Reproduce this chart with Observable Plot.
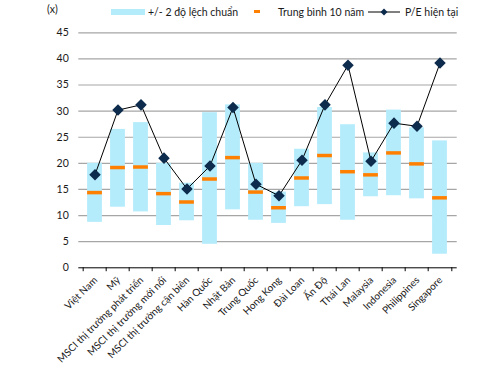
<!DOCTYPE html>
<html>
<head>
<meta charset="utf-8">
<script src="https://cdn.jsdelivr.net/npm/d3@7"></script>
<script src="https://cdn.jsdelivr.net/npm/@observablehq/plot@0.6"></script>
<style>
  html, body { margin: 0; padding: 0; background: #fff; }
  #wrap { position: relative; width: 493px; height: 365px; font-family: Lato, "Open Sans", sans-serif; color: #1a1a1a; }
  .lg { position: absolute; font-size: 10.5px; line-height: 12px; white-space: nowrap; }
</style>
</head>
<body>
<div id="wrap">
  <div class="lg" style="left:47px; top:3px;">(x)</div>
  <div style="position:absolute; left:111px; top:9px; width:34px; height:6px; background:#b5ecfc;"></div>
  <div class="lg" style="left:148px; top:6px;">+/- 2 độ lệch chuẩn</div>
  <div style="position:absolute; left:254px; top:10px; width:6px; height:3px; background:#ff8000;"></div>
  <div class="lg" style="left:278px; top:6px;">Trung bình 10 năm</div>
  <svg style="position:absolute; left:366px; top:6px;" width="36" height="12">
    <line x1="2" y1="6" x2="34" y2="6" stroke="#000" stroke-width="1"/>
    <path d="M18,2.5 L21.5,6 L18,9.5 L14.5,6 Z" fill="#0d2b4c"/>
  </svg>
  <div class="lg" style="left:405px; top:6px;">P/E hiện tại</div>
  <div id="chart" style="position:absolute; left:0; top:0;"></div>
</div>
<script>
const categories = ["Việt Nam", "Mỹ", "MSCI thị trường phát triển", "MSCI thị trường mới nổi", "MSCI thị trường cận biên", "Hàn Quốc", "Nhật Bản", "Trung Quốc", "Hong Kong", "Đài Loan", "Ấn Độ", "Thái Lan", "Malaysia", "Indonesia", "Philippines", "Singapore"];
const upper  = [20.0, 26.5, 27.8, 20.0, 16.2, 29.7, 31.2, 20.0, 14.5, 22.7, 30.7, 27.4, 22.0, 30.2, 26.8, 24.3];
const lower  = [8.7, 11.6, 10.7, 8.1, 9.0, 4.5, 11.1, 9.1, 8.5, 11.7, 12.1, 9.1, 13.6, 13.8, 13.2, 2.6];
const avg10  = [14.4, 19.2, 19.3, 14.2, 12.6, 17.0, 21.1, 14.5, 11.5, 17.2, 21.5, 18.4, 17.8, 22.0, 19.9, 13.4];
const current = [17.8, 30.2, 31.2, 21.0, 15.1, 19.5, 30.7, 16.0, 13.8, 20.6, 31.2, 38.8, 20.4, 27.7, 27.1, 39.2];
const yTicks = [0, 5, 10, 15, 20, 25, 30, 35, 40, 45];

const data = categories.map((c, i) => ({c, hi: upper[i], lo: lower[i], avg: avg10[i], pe: current[i]}));

const W = 493, H = 365;
const mL = 78.3, mR = 36.3, mT = 32.3, mB = 97.7;
const step = (W - mL - mR) / categories.length;

const plot = Plot.plot({
  width: W, height: H,
  marginLeft: mL, marginRight: mR, marginTop: mT, marginBottom: mB,
  style: {fontFamily: "Lato, 'Open Sans', sans-serif", fontSize: "10.5px", color: "#1a1a1a", background: "transparent"},
  x: {type: "band", domain: categories, padding: 0, axis: null},
  y: {domain: [0, 45], axis: null},
  marks: [
    Plot.ruleY(yTicks.filter(d => d > 0), {stroke: "#a6a6a6", strokeWidth: 1.2}),
    Plot.text(yTicks, {x: null, y: d => d, text: d => String(d), frameAnchor: "left", textAnchor: "end", dx: -10, fill: "#1a1a1a", fontSize: 10.5}),
    Plot.barY(data, {x: "c", y1: "lo", y2: "hi", fill: "#b5ecfc", insetLeft: 4.1, insetRight: 4.1}),
    Plot.tickY(data, {x: "c", y: "avg", stroke: "#ff8000", strokeWidth: 3.5, insetLeft: 4.1, insetRight: 4.1}),
    Plot.ruleY([0], {stroke: "#000", strokeWidth: 1}),
    Plot.ruleX(categories, {x: d => d, y1: 0, y2: -0.75, dx: -step / 2, stroke: "#000"}),
    Plot.ruleX([categories[categories.length - 1]], {x: d => d, y1: 0, y2: -0.75, dx: step / 2, stroke: "#000"}),
    Plot.line(data, {x: "c", y: "pe", stroke: "#000", strokeWidth: 1}),
    Plot.dot(data, {x: "c", y: "pe", symbol: "diamond2", r: 5.2, fill: "#0d2b4c", stroke: "none"}),
    Plot.text(data, {x: "c", y: 0, text: "c", rotate: -45, textAnchor: "end", lineAnchor: "bottom", dx: 3, dy: 13, fontSize: 10, fill: "#1a1a1a"})
  ]
});
document.getElementById("chart").appendChild(plot);
</script>
</body>
</html>
